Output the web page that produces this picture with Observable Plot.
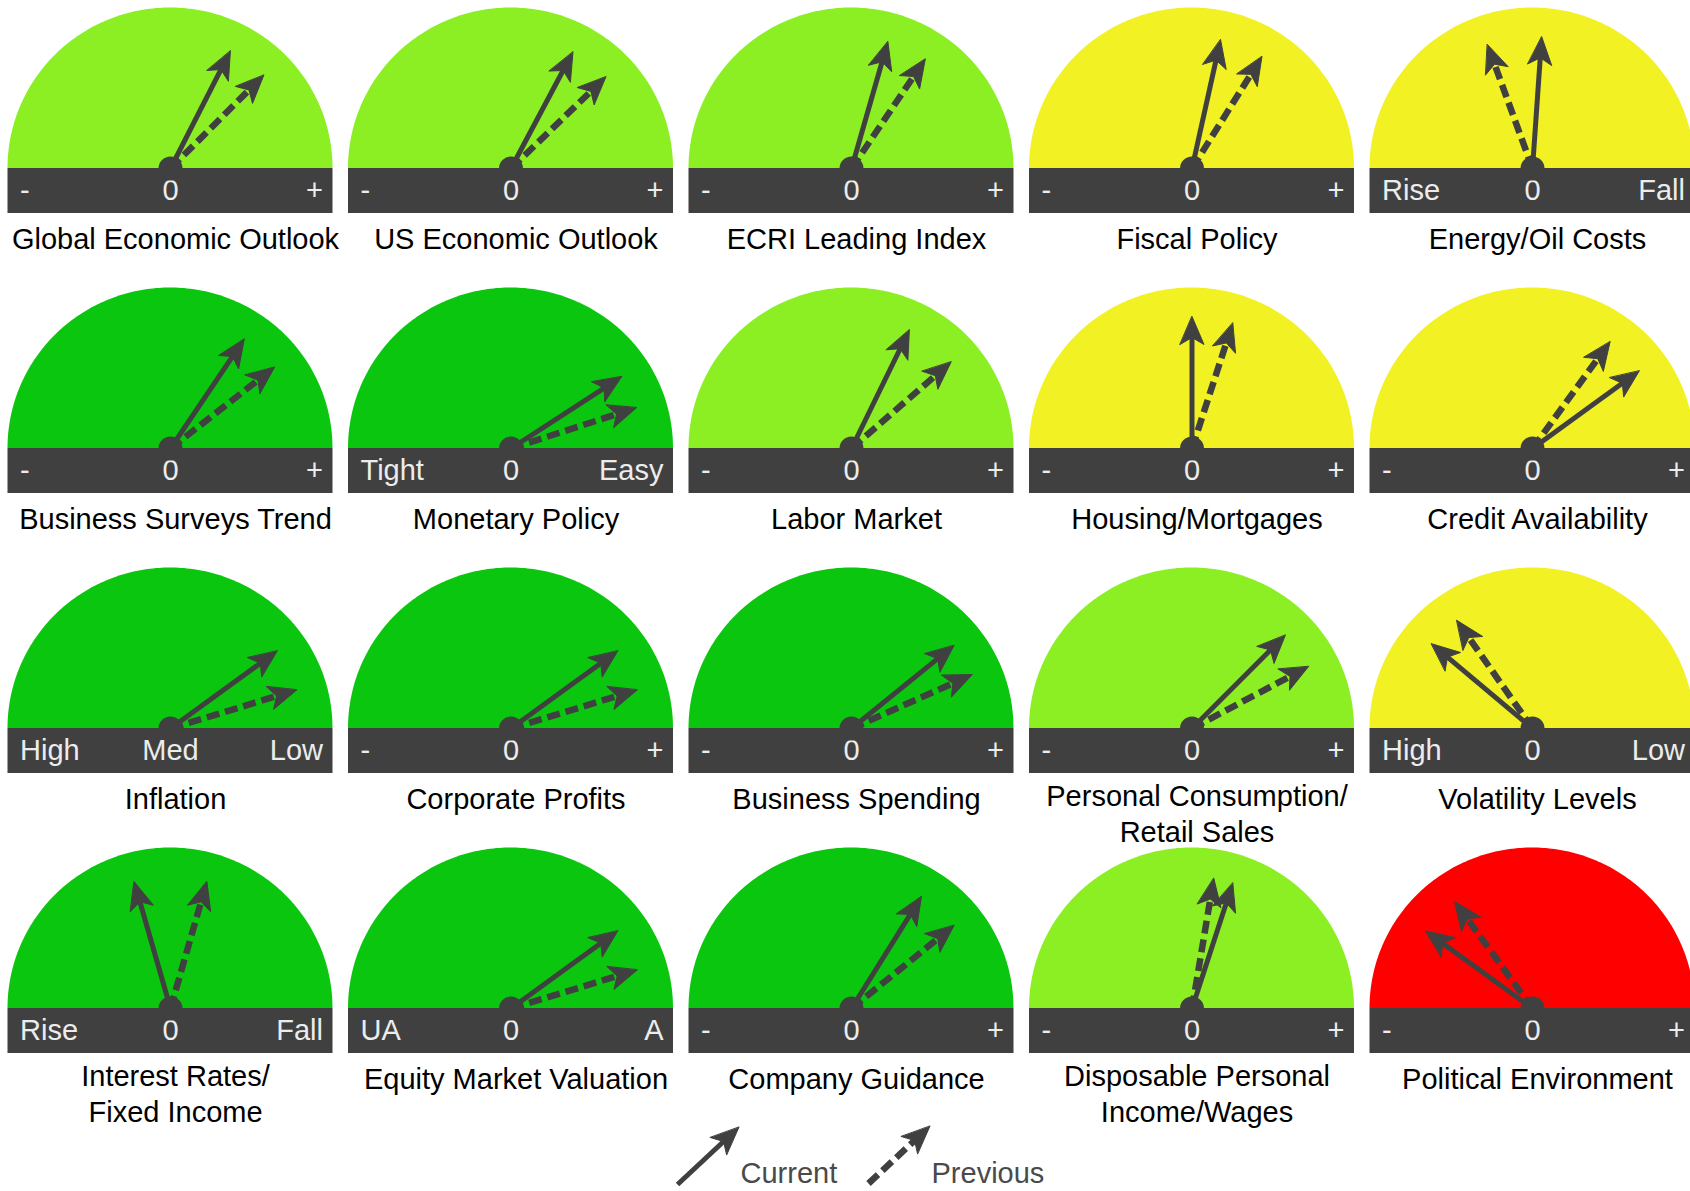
<!DOCTYPE html>
<html>
<head>
<meta charset="utf-8">
<script src="https://cdn.jsdelivr.net/npm/d3@7"></script>
<script src="https://cdn.jsdelivr.net/npm/@observablehq/plot@0.6"></script>
<style>
  html, body { margin: 0; padding: 0; background: #fff; overflow: hidden; }
  #chart svg { display: block; overflow: hidden; }
</style>
</head>
<body>
<div id="chart"></div>
<script>
// ---------- DATA ----------
const gauges = [
  "Global Economic Outlook", "US Economic Outlook", "ECRI Leading Index", "Fiscal Policy", "Energy/Oil Costs",
  "Business Surveys Trend", "Monetary Policy", "Labor Market", "Housing/Mortgages", "Credit Availability",
  "Inflation", "Corporate Profits", "Business Spending", "Personal Consumption/\nRetail Sales", "Volatility Levels",
  "Interest Rates/\nFixed Income", "Equity Market Valuation", "Company Guidance", "Disposable Personal\nIncome/Wages", "Political Environment"
];
const status = [
  "Positive", "Positive", "Positive", "Neutral", "Neutral",
  "Strong positive", "Strong positive", "Positive", "Neutral", "Neutral",
  "Strong positive", "Strong positive", "Strong positive", "Positive", "Neutral",
  "Strong positive", "Strong positive", "Strong positive", "Positive", "Negative"
];
// needle angle in degrees from vertical (negative = left end, positive = right end)
const current  = [27, 28, 16, 12.5, 4,   34, 57, 26, 0, 54,   54, 54, 51, 45, -50,   -16, 54, 32, 18, -54];
const previous = [45, 46, 34, 32, -20,   52, 72, 49, 18, 36,   73, 73, 66, 62, -35,    16, 73, 51, 9.5, -36];
const leftLabels  = ["-", "-", "-", "-", "Rise",  "-", "Tight", "-", "-", "-",  "High", "-", "-", "-", "High",  "Rise", "UA", "-", "-", "-"];
const midLabels   = ["0", "0", "0", "0", "0",  "0", "0", "0", "0", "0",  "Med", "0", "0", "0", "0",  "0", "0", "0", "0", "0"];
const rightLabels = ["+", "+", "+", "+", "Fall",  "+", "Easy", "+", "+", "+",  "Low", "+", "+", "+", "Low",  "Fall", "A", "+", "+", "+"];
const statusDomain = ["Strong positive", "Positive", "Neutral", "Negative"];
const statusColors = ["#0bc60f", "#8bef23", "#f1f124", "#fe0000"];
const legendItems = ["Current", "Previous"];

// ---------- LAYOUT ----------
const W = 1690, H = 1191;
const COLS = 5, X0 = 170, DX = 340.5, Y0 = 168, DY = 280;
const RX = 162.5, RY = 160.5, BAR_H = 45, LEN = 132, HUB = 12;
const HEAD_L = 28, HEAD_W = 12, HEAD_N = 7;
const INK = "#404040";
const FONT = "'Liberation Sans', Arial, Helvetica, sans-serif";

const G = gauges.map((name, i) => ({
  name, i,
  cx: X0 + (i % COLS) * DX,
  cy: Y0 + Math.floor(i / COLS) * DY,
  status: status[i], cur: current[i], prev: previous[i],
  left: leftLabels[i], mid: midLabels[i], right: rightLabels[i]
}));

const arcPts = G.flatMap(g => d3.range(0, 181).map(k => {
  const t = Math.PI * (1 - k / 180);
  return {name: g.name, status: g.status, x: g.cx + RX * Math.cos(t), y1: g.cy, y2: g.cy - RY * Math.sin(t)};
}));

function arrow(id, x0, y0, deg, len) {
  const a = deg * Math.PI / 180, ux = Math.sin(a), uy = -Math.cos(a), vx = -uy, vy = ux;
  const tx = x0 + len * ux, ty = y0 + len * uy;
  const bx = tx - HEAD_L * ux, by = ty - HEAD_L * uy;
  const nx = tx - (HEAD_L - HEAD_N) * ux, ny = ty - (HEAD_L - HEAD_N) * uy;
  return {
    shaft: {id, x1: x0, y1: y0, x2: nx, y2: ny},
    head: [
      {id, x: tx, y: ty},
      {id, x: bx + HEAD_W * vx, y: by + HEAD_W * vy},
      {id, x: nx, y: ny},
      {id, x: bx - HEAD_W * vx, y: by - HEAD_W * vy}
    ]
  };
}

const curArrows = G.map(g => arrow("c" + g.i, g.cx, g.cy, g.cur, LEN));
const prevArrows = G.map(g => arrow("p" + g.i, g.cx, g.cy, g.prev, LEN));

// legend
const LEG_Y = 1184;
const legCur = arrow("lc", 677, LEG_Y, 47, 84);
const legPrev = arrow("lp", 868, LEG_Y - 1, 47, 84);
const legendText = [
  {text: legendItems[0], x: 740, y: 1173},
  {text: legendItems[1], x: 931, y: 1173}
];

const solidShafts = [...curArrows.map(a => a.shaft), legCur.shaft];
const solidHeads = [...curArrows.flatMap(a => a.head), ...legCur.head];
const dashShafts = [...prevArrows.map(a => a.shaft), legPrev.shaft];
const dashHeads = [...prevArrows.flatMap(a => a.head), ...legPrev.head];

const chart = Plot.plot({
  width: W, height: H,
  margin: 0,
  x: {domain: [0, W], range: [0, W], axis: null},
  y: {domain: [0, H], range: [0, H], axis: null},
  color: {type: "ordinal", domain: statusDomain, range: statusColors},
  style: {fontFamily: FONT, background: "#fff"},
  marks: [
    Plot.areaY(arcPts, {x: "x", y1: "y1", y2: "y2", z: "name", fill: "status", curve: "linear"}),
    Plot.rect(G, {x1: d => d.cx - RX, x2: d => d.cx + RX, y1: "cy", y2: d => d.cy + BAR_H, fill: INK}),
    Plot.text(G, {x: d => d.cx - RX + 12, y: d => d.cy + BAR_H / 2, text: "left", textAnchor: "start", fill: "#ececec", fontSize: 29, fontFamily: FONT}),
    Plot.text(G, {x: "cx", y: d => d.cy + BAR_H / 2, text: "mid", textAnchor: "middle", fill: "#ececec", fontSize: 29, fontFamily: FONT}),
    Plot.text(G, {x: d => d.cx + RX - 10, y: d => d.cy + BAR_H / 2, text: "right", textAnchor: "end", fill: "#ececec", fontSize: 29, fontFamily: FONT}),
    Plot.text(G, {x: d => d.cx + 5, y: d => d.cy + (d.name.includes("\n") ? 84 : 69), text: "name", textAnchor: "middle", lineAnchor: "middle", lineHeight: 1.24, fill: "#000", fontSize: 29, fontFamily: FONT}),
    // previous (dashed)
    Plot.link(dashShafts, {x1: "x1", y1: "y1", x2: "x2", y2: "y2", stroke: INK, strokeWidth: 6.5, strokeDasharray: "13,6", strokeLinecap: "butt"}),
    Plot.line(dashHeads, {x: "x", y: "y", z: "id", fill: INK, stroke: INK, strokeWidth: 1, strokeLinejoin: "miter", curve: "linear-closed"}),
    // current (solid)
    Plot.link(solidShafts, {x1: "x1", y1: "y1", x2: "x2", y2: "y2", stroke: INK, strokeWidth: 5, strokeLinecap: "butt"}),
    Plot.line(solidHeads, {x: "x", y: "y", z: "id", fill: INK, stroke: INK, strokeWidth: 1, strokeLinejoin: "miter", curve: "linear-closed"}),
    // hub
    Plot.dot(G, {x: "cx", y: "cy", r: HUB, fill: INK, stroke: null}),
    // legend text
    Plot.text(legendText, {x: "x", y: "y", text: "text", textAnchor: "start", lineAnchor: "middle", fill: "#4a4a4a", fontSize: 29, fontFamily: FONT})
  ]
});
document.getElementById("chart").appendChild(chart);
</script>
</body>
</html>
